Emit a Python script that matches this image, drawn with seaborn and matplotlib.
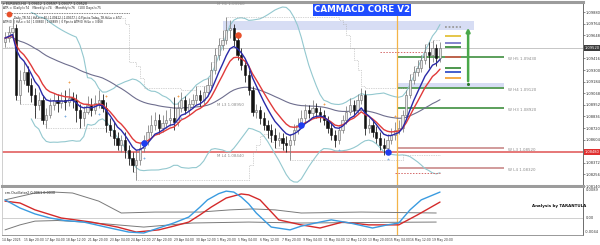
import numpy as np
import pandas as pd
import matplotlib
matplotlib.use("Agg")
import matplotlib.pyplot as plt
from matplotlib import transforms
from matplotlib.lines import Line2D
import seaborn as sns

# ------------------------------------------------------------------ data
first_open = 1.0958
closes = [1.0962, 1.0968, 1.0972, 1.0905, 1.0920, 1.0928, 1.0915, 1.0905, 1.0895, 1.0900,
          1.0880, 1.0885, 1.0895, 1.0900, 1.0897, 1.0900, 1.0898, 1.0902, 1.0900, 1.0890,
          1.0882, 1.0888, 1.0895, 1.0890, 1.0897, 1.0900, 1.0892, 1.0875, 1.0870, 1.0862,
          1.0855, 1.0860, 1.0850, 1.0842, 1.0835, 1.0840, 1.0852, 1.0860, 1.0868, 1.0875,
          1.0880, 1.0872, 1.0877, 1.0880, 1.0882, 1.0878, 1.0892, 1.0900, 1.0890, 1.0896,
          1.0900, 1.0905, 1.0900, 1.0908, 1.0915, 1.0930, 1.0945, 1.0955, 1.0960, 1.0970,
          1.0972, 1.0960, 1.0945, 1.0935, 1.0925, 1.0910, 1.0888, 1.0890, 1.0882, 1.0875,
          1.0870, 1.0865, 1.0860, 1.0862, 1.0857, 1.0855, 1.0860, 1.0870, 1.0875, 1.0882,
          1.0890, 1.0887, 1.0892, 1.0888, 1.0885, 1.0880, 1.0872, 1.0865, 1.0860, 1.0870,
          1.0880, 1.0888, 1.0895, 1.0890, 1.0900, 1.0905, 1.0872, 1.0875, 1.0868, 1.0862,
          1.0855, 1.0852, 1.0860, 1.0865, 1.0870, 1.0872, 1.0885, 1.0905, 1.0920, 1.0928,
          1.0932, 1.0940, 1.0948, 1.0945, 1.0952, 1.0942, 1.0952]
highs = [1.0968, 1.0974, 1.0982, 1.0976, 1.0930, 1.0938, 1.0934, 1.0922, 1.0912, 1.0908,
         1.0905, 1.0892, 1.0902, 1.0907, 1.0906, 1.0908, 1.0910, 1.0912, 1.0908, 1.0906,
         1.0896, 1.0894, 1.0904, 1.0902, 1.0905, 1.0910, 1.0906, 1.0898, 1.0882, 1.0878,
         1.0868, 1.0865, 1.0868, 1.0855, 1.0848, 1.0850, 1.0857, 1.0865, 1.0875, 1.0885,
         1.0888, 1.0886, 1.0885, 1.0890, 1.0892, 1.0903, 1.0898, 1.0908, 1.0904, 1.0902,
         1.0906, 1.0914, 1.0910, 1.0914, 1.0922, 1.0938, 1.0952, 1.0962, 1.0970, 1.0983,
         1.0980, 1.0976, 1.0965, 1.0952, 1.0940, 1.0930, 1.0914, 1.0896, 1.0894, 1.0888,
         1.0880, 1.0876, 1.0872, 1.0868, 1.0867, 1.0864, 1.0866, 1.0876, 1.0882, 1.0890,
         1.0896, 1.0895, 1.0900, 1.0897, 1.0893, 1.0890, 1.0884, 1.0878, 1.0870, 1.0874,
         1.0885, 1.0894, 1.0902, 1.0900, 1.0906, 1.0912, 1.0910, 1.0882, 1.0880, 1.0874,
         1.0868, 1.0862, 1.0866, 1.0872, 1.0878, 1.0880, 1.0890, 1.0910, 1.0926, 1.0934,
         1.0940, 1.0945, 1.0956, 1.0958, 1.0960, 1.0956, 1.0958]
lows = [1.0953, 1.0958, 1.0964, 1.0900, 1.0896, 1.0916, 1.0908, 1.0898, 1.0882, 1.0890,
        1.0876, 1.0872, 1.0882, 1.0890, 1.0888, 1.0892, 1.0890, 1.0894, 1.0892, 1.0878,
        1.0872, 1.0874, 1.0886, 1.0884, 1.0886, 1.0892, 1.0888, 1.0868, 1.0864, 1.0855,
        1.0850, 1.0848, 1.0842, 1.0835, 1.0828, 1.0820, 1.0835, 1.0848, 1.0855, 1.0864,
        1.0870, 1.0866, 1.0868, 1.0872, 1.0874, 1.0870, 1.0874, 1.0888, 1.0886, 1.0885,
        1.0892, 1.0896, 1.0894, 1.0896, 1.0904, 1.0912, 1.0926, 1.0940, 1.0950, 1.0956,
        1.0962, 1.0954, 1.0940, 1.0930, 1.0918, 1.0905, 1.0884, 1.0882, 1.0876, 1.0870,
        1.0862, 1.0858, 1.0852, 1.0854, 1.0850, 1.0848, 1.0840, 1.0855, 1.0866, 1.0872,
        1.0878, 1.0882, 1.0883, 1.0882, 1.0878, 1.0875, 1.0867, 1.0860, 1.0853, 1.0856,
        1.0867, 1.0876, 1.0885, 1.0884, 1.0886, 1.0896, 1.0865, 1.0867, 1.0863, 1.0857,
        1.0850, 1.0845, 1.0847, 1.0856, 1.0860, 1.0866, 1.0868, 1.0882, 1.0902, 1.0916,
        1.0924, 1.0928, 1.0936, 1.0932, 1.0938, 1.0934, 1.0938]

time_labels = ["14 Apr 2025", "15 Apr 20:00", "17 Apr 04:00", "18 Apr 12:00", "21 Apr 20:00",
               "23 Apr 04:00", "24 Apr 12:00", "27 Apr 20:00", "29 Apr 04:00", "30 Apr 12:00",
               "1 May 20:00", "5 May 04:00", "6 May 12:00", "7 May 20:00", "9 May 04:00",
               "11 May 04:00", "12 May 12:00", "13 May 20:00", "15 May 04:00", "16 May 12:00",
               "19 May 20:00"]

price_ticks = [1.09880, 1.09764, 1.09648, 1.09416, 1.09300, 1.09184, 1.09068, 1.08952,
               1.08836, 1.08720, 1.08604, 1.08372, 1.08256, 1.08140]
bid_price = 1.0952
red_level = 1.0848

w_names = ["W H5", "W H4", "W H3", "W L3", "W L4"]
w_prices = [1.0943, 1.0912, 1.0892, 1.0852, 1.0832]
w_band = [1.0913, 1.0917]
m_names = ["M H1", "M L3", "M L4"]
m_prices = [1.0996, 1.0895, 1.0844]
m_band = [1.0970, 1.0979]
target_prices = [1.0973, 1.0964, 1.0957, 1.0953, 1.0943, 1.0932, 1.0928, 1.0922]
arrow_from, arrow_to = 1.0916, 1.0975
daily_dotted = [1.0948, 1.0827]

fractal_up_bars = [17, 27, 46, 85, 104]
fractal_dn_bars = [16, 25, 37, 47, 89, 102]
red_dot_bars, red_dot_prices = [62], [1.0965]
blue_dot_bars, blue_dot_prices = [37, 79, 102], [1.0857, 1.0875, 1.0848]

osc_blue_bars = [0, 4, 8, 12, 16, 21, 28, 33, 37, 41, 45, 49, 52, 54, 57, 59, 61, 63, 65, 67, 71,
                 76, 79, 84, 87, 92, 98, 102, 105, 108, 111, 116]
osc_blue = [0.0058, 0.0032, 0.0013, 0.0000, -0.0008, -0.0013, -0.0032, -0.0045, -0.0048, -0.0032,
            -0.0016, 0.0003, 0.0035, 0.0058, 0.0078, 0.0086, 0.0083, 0.0067, 0.0045, 0.0016,
            -0.0029, -0.0038, -0.0026, -0.0013, -0.0006, -0.0016, -0.0032, -0.0022, -0.0016,
            0.0026, 0.0058, 0.0083]
osc_red_bars = [0, 4, 8, 15, 23, 30, 35, 41, 45, 49, 52, 55, 59, 63, 65, 68, 73, 79, 84, 90, 97,
                102, 105, 110, 116]
osc_red = [0.0054, 0.0048, 0.0026, 0.0000, -0.0013, -0.0029, -0.0045, -0.0038, -0.0026, -0.0013,
           0.0010, 0.0035, 0.0064, 0.0077, 0.0074, 0.0058, -0.0006, -0.0022, -0.0032, -0.0013,
           -0.0022, -0.0022, -0.0022, 0.0010, 0.0051]
osc_gray1_bars = [0, 8, 13, 18, 25, 31, 40, 52, 60, 66, 72, 79, 95, 115]
osc_gray1 = [0.0058, 0.0080, 0.0083, 0.0080, 0.0054, 0.0016, 0.0019, 0.0019, 0.0026, 0.0029,
             0.0026, 0.0016, 0.0019, 0.0016]
osc_gray2_bars = [0, 4, 8, 14, 21, 30, 37, 44, 50, 65, 79, 100, 115]
osc_gray2 = [-0.0038, -0.0022, -0.0010, -0.0008, -0.0013, -0.0022, -0.0029, -0.0022, -0.0016,
             -0.0013, -0.0016, -0.0014, -0.0013]

# ------------------------------------------------------------------ derived series
df = pd.DataFrame({"bar": np.arange(len(closes)), "close": closes, "high": highs, "low": lows})
df["open"] = df["close"].shift(1).fillna(first_open)
df["ema_fast"] = df["close"].ewm(span=7, adjust=False).mean()
df["ema_slow"] = df["close"].ewm(span=11, adjust=False).mean()
df["ma_long"] = df["close"].ewm(span=50, adjust=False).mean()
mid = df["close"].rolling(20, min_periods=8).mean()
sd = df["close"].rolling(20, min_periods=8).std(ddof=0)
df["bb_up"] = mid + 2 * sd
df["bb_dn"] = mid - 2 * sd
df["dc_up"] = df["high"].rolling(30, min_periods=1).max()
df["dc_dn"] = df["low"].rolling(30, min_periods=1).min()

# ------------------------------------------------------------------ figure
sns.set_theme(style="white")
plt.rcParams["font.family"] = ["DejaVu Sans"]

W, H = 600, 245
fig = plt.figure(figsize=(6.0, 2.45), dpi=100)
fig.patch.set_facecolor("white")
L, R = 2 / W, 583 / W
ax = fig.add_axes([L, 1 - 186 / H, R - L, (186 - 2) / H])
ax2 = fig.add_axes([L, 1 - 235 / H, R - L, (235 - 188) / H])
XMIN = -0.8
XMAX = XMIN + 581 / 3.75
for a in (ax, ax2):
    a.set_xlim(XMIN, XMAX)
    a.set_facecolor("white")
ax.set_ylim(1.0814, 1.0998)
ax2.set_ylim(-0.00544, 0.0096)

def fx(px):
    return px / W

def fy(py):
    return 1 - py / H

# bands / levels behind candles
ax.fill_between([58, 125], m_band[0], m_band[1], color="#d7ddf4", lw=0, zorder=0.5)
ax.fill_between([104.5, 133], w_band[0], w_band[1], color="#d7ddf4", lw=0, zorder=0.5)
ax.axhline(bid_price, color="#bdbdbd", lw=0.6, zorder=0.8)
ax.axhline(red_level, color="#e46c6c", lw=1.3, zorder=0.8)
w_colors = ["#3f8f3f", "#3f8f3f", "#3f8f3f", "#c98a8a", "#c98a8a"]
ax.hlines(w_prices, 104.5, 133, colors=w_colors, lw=1.2, zorder=0.9)
for n, p in zip(w_names, w_prices):
    ax.text(134, p - 0.0002, f"{n} {p:.5f}", fontsize=2.9, color="#8a8a8a", va="center", ha="left")
m_label_bars = [56.5, 56.5, 56.5]
for n, p, b in zip(m_names, m_prices, m_label_bars):
    ax.text(b, p, f"{n} {p:.5f}", fontsize=2.9, color="#8a8a8a", va="center", ha="left")
ax.hlines(daily_dotted[0], 100, 112, colors="#d46a6a", lw=0.7, linestyles=(0, (1.5, 1.5)))
ax.hlines(daily_dotted[1], 104, 116, colors="#d46a6a", lw=0.7, linestyles=(0, (1.5, 1.5)))

# Bollinger / channel / long MA
for col in ("bb_up", "bb_dn"):
    sns.lineplot(data=df, x="bar", y=col, ax=ax, color="#93c8cf", lw=0.8, legend=False, zorder=1)
for col in ("dc_up", "dc_dn"):
    ax.step(df["bar"], df[col], where="post", color="#ababab", lw=0.5,
            linestyle=(0, (1, 1.5)), zorder=1)
sns.lineplot(data=df, x="bar", y="ma_long", ax=ax, color="#6e6e8e", lw=0.8, legend=False, zorder=1.2)

# candles
up = (df["close"] >= df["open"]).to_numpy()
wick_cols = np.where(up, "#7a7a7a", "#111111")
ax.vlines(df["bar"], df["low"], df["high"], colors=wick_cols, lw=0.55, zorder=2)
body_lo = np.minimum(df["open"], df["close"])
body_h = np.maximum(np.abs(df["close"] - df["open"]), 0.00004)
ax.bar(df["bar"], body_h, bottom=body_lo, width=0.55,
       color=np.where(up, "#e8e8e8", "#111111"),
       edgecolor=np.where(up, "#6a6a6a", "#111111"), linewidth=0.4, zorder=2.1)

# fast MAs
sns.lineplot(data=df, x="bar", y="ema_slow", ax=ax, color="#e03a3a", lw=1.0, legend=False, zorder=3)
sns.lineplot(data=df, x="bar", y="ema_fast", ax=ax, color="#2a2aa8", lw=1.0, legend=False, zorder=3.1)

# fractals & signal dots
fu = df.loc[fractal_up_bars]
fd = df.loc[fractal_dn_bars]
ax.scatter(fu["bar"], fu["high"] + 0.0006, marker="+", s=4, color="#f0a050", lw=0.6, zorder=3.5)
ax.scatter(fd["bar"], fd["low"] - 0.0006, marker="+", s=4, color="#7fb0e0", lw=0.6, zorder=3.5)
ax.scatter(red_dot_bars, red_dot_prices, s=22, color="#e8502a", zorder=4, lw=0)
ax.scatter(blue_dot_bars, blue_dot_prices, s=22, color="#1e3cf0", zorder=4, lw=0)

# target lines at the right
target_colors = ["#9a9a9a", "#e3c23a", "#7a7ac8", "#3f8f3f", "#c8604e", "#3f8f3f", "#3552c8", "#f2a43a"]
target_styles = [(0, (1, 1)), "-", "-", "-", "-", "-", "-", "-"]
for p, c, s in zip(target_prices, target_colors, target_styles):
    ax.hlines(p, 117.2, 121.5, colors=c, lw=1.3, linestyles=s, zorder=3)
ax.annotate("", xy=(123.5, arrow_to), xytext=(123.5, arrow_from),
            arrowprops=dict(arrowstyle="-|>", color="#4aa84a", lw=1.8, mutation_scale=5), zorder=4)
ax.scatter([123.5], [arrow_from], s=5, color="#2f7a2f", zorder=4.1, lw=0)

# vertical session line
for a in (ax, ax2):
    a.axvline(104.5, color="#f3b448", lw=0.9, zorder=1)

# axes styling main
ax.yaxis.tick_right()
ax.set_yticks(price_ticks)
ax.set_yticklabels([f"{t:.5f}" for t in price_ticks])
ax.tick_params(axis="y", labelsize=2.6, length=1.2, width=0.4, pad=0.6, colors="#333333")
ax.set_xticks([])
ax.set_xlabel("")
ax.set_ylabel("")
for s in ("top", "bottom"):
    ax.spines[s].set_color("#9c9c9c")
    ax.spines[s].set_linewidth(2.2)
ax.spines["left"].set_color("#c8c8c8")
ax.spines["left"].set_linewidth(0.6)
ax.spines["right"].set_color("#555555")
ax.spines["right"].set_linewidth(0.6)

tr = transforms.blended_transform_factory(ax.transAxes, ax.transData)
ax.text(1.003, bid_price, f"{bid_price:.5f}", transform=tr, fontsize=2.6, color="white",
        va="center", ha="left", clip_on=False,
        bbox=dict(boxstyle="square,pad=0.2", fc="#3c3c3c", ec="none"))
ax.text(1.003, red_level, f"{red_level:.5f}", transform=tr, fontsize=2.6, color="white",
        va="center", ha="left", clip_on=False,
        bbox=dict(boxstyle="square,pad=0.2", fc="#e03030", ec="none"))

# ------------------------------------------------------------------ oscillator
ax2.axhline(0, color="#cfcfcf", lw=0.7, zorder=0.5)
osc_sets = [(osc_gray1_bars, osc_gray1, "#7a7a7a", 0.7),
            (osc_gray2_bars, osc_gray2, "#7a7a7a", 0.7),
            (osc_red_bars, osc_red, "#d42a2a", 1.0),
            (osc_blue_bars, osc_blue, "#3a9be0", 1.0)]
for bars, vals, c, lw in osc_sets:
    sns.lineplot(x=bars, y=vals, ax=ax2, color=c, lw=lw, legend=False, zorder=2)
ax2.set_xlabel("")
ax2.set_ylabel("")
ax2.set_yticks([])
tick_pos = (2 + 21.5 * np.arange(len(time_labels)) - 5) / 3.75
ax2.set_xticks(tick_pos)
ax2.set_xticklabels(time_labels, ha="left")
ax2.tick_params(axis="x", labelsize=2.2, length=1.5, width=0.4, pad=0.8, colors="#333333")
ax2.spines["top"].set_visible(False)
ax2.spines["bottom"].set_color("#888888")
ax2.spines["bottom"].set_linewidth(0.6)
ax2.spines["left"].set_color("#c8c8c8")
ax2.spines["left"].set_linewidth(0.6)
ax2.spines["right"].set_color("#555555")
ax2.spines["right"].set_linewidth(0.6)
tr2 = transforms.blended_transform_factory(ax2.transAxes, ax2.transData)
for v, t in [(0.0089, "0.0089"), (0.0, "0.00"), (-0.0044, "-0.0044")]:
    ax2.text(1.004, v, t, transform=tr2, fontsize=2.6, color="#333333", va="center", ha="left",
             clip_on=False)
ax2.text(0.006, 0.93, "cm.Oscillator2 0.0061 0.0030", transform=ax2.transAxes, fontsize=2.4,
         color="#222222", va="top", ha="left")
ax2.text(140.5, 0.0038, "Analysis by TARANTULA", fontsize=2.9, color="#111111",
         fontweight="bold", va="center", ha="left")

# ------------------------------------------------------------------ header texts
fig.text(fx(3), fy(4), "\u25be EURUSD,H4  1.09412 1.09597 1.09377 1.09520", fontsize=2.4,
         color="#222222", va="center", ha="left")
fig.text(fx(3), fy(8.5), "ATR = (Daily)=74   (Weekly)=74   (Monthly)=76   (100 Days)=75",
         fontsize=2.2, color="#222222", va="center", ha="left")
fig.add_artist(Line2D([fx(5), fx(130)], [fy(13.5), fy(13.5)], color="#333333", lw=0.5,
                      linestyle=(0, (1.2, 1.2))))
fig.text(fx(14), fy(17.5), "Daily_TR 74 | Hi/Lo = 40 | 1.09412 | 1.09377 |  0 Pips to Today_TR Hi/Lo = 6/57",
         fontsize=2.0, color="#222222", va="center", ha="left")
fig.text(fx(3), fy(21.5), "ATR(0)  | Hi/Lo = 54 | 1.08860 | 1.08889 |  0 Pips to ATR(0) Hi/Lo = 3/468",
         fontsize=2.0, color="#222222", va="center", ha="left")
fig.add_artist(Line2D([fx(9)], [fy(14)], marker="o", markersize=3.2, color="#e8502a", lw=0))
fig.text(fx(362), fy(10), "CAMMACD CORE V2", fontsize=6.3, fontweight="bold", color="white",
         va="center", ha="center",
         bbox=dict(boxstyle="square,pad=0.15", fc="#1f4cff", ec="none"))

fig.savefig("out.png", dpi=100, facecolor="white")
